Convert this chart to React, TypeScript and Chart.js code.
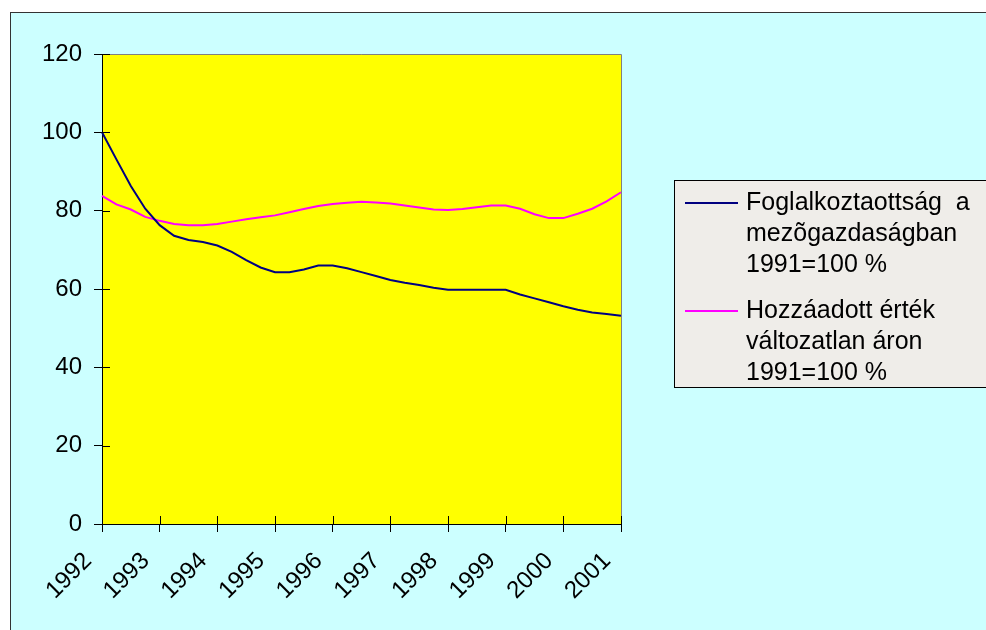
import React, { useEffect, useRef } from 'react';
import { Chart, registerables } from 'chart.js';

Chart.register(...registerables);

// ---- data ----
const years = ['1992', '1993', '1994', '1995', '1996', '1997', '1998', '1999', '2000', '2001'];
const quarterSuffixes = ['', ' II', ' III', ' IV'];
const periods = years.flatMap((y, i) => (i < years.length - 1 ? quarterSuffixes.map((q) => y + q) : [y]));

const employment = [
  100.0, 93.1, 86.3, 80.5, 76.3, 73.6, 72.5, 72.0, 71.1, 69.5, 67.4, 65.5, 64.3, 64.3, 65.0, 66.0, 66.0, 65.3,
  64.3, 63.3, 62.3, 61.6, 61.0, 60.3, 59.8, 59.8, 59.8, 59.8, 59.8, 58.6, 57.6, 56.6, 55.6, 54.7, 54.0, 53.6, 53.2,
];
const valueAdded = [
  83.8, 81.6, 80.3, 78.4, 77.4, 76.6, 76.3, 76.3, 76.6, 77.2, 77.8, 78.3, 78.8, 79.6, 80.4, 81.2, 81.7, 82.0,
  82.3, 82.1, 81.8, 81.3, 80.8, 80.3, 80.2, 80.4, 80.9, 81.3, 81.3, 80.5, 79.1, 78.1, 78.1, 79.2, 80.5, 82.4, 84.7,
];

const legendLines = [
  ['Foglalkoztaottság  a', 'mezõgazdaságban', '1991=100 %'],
  ['Hozzáadott érték', 'változatlan áron', '1991=100 %'],
];
const seriesColors = ['#000080', '#FF00FF'];

const yMin = 0;
const yMax = 120;
const yStep = 20;

const FONT = "'Liberation Sans', Arial, sans-serif";

const decorPlugin = {
  id: 'decor',
  beforeDraw(chart: any) {
    const { ctx, chartArea: a } = chart;
    ctx.save();
    ctx.fillStyle = '#FFFF00';
    ctx.fillRect(a.left, a.top, a.right - a.left, a.bottom - a.top);
    ctx.restore();
  },
  afterDatasetsDraw(chart: any) {
    const { ctx, chartArea: a } = chart;
    ctx.save();
    ctx.strokeStyle = '#808080';
    ctx.lineWidth = 1;
    ctx.beginPath();
    ctx.moveTo(a.left, a.top + 0.5);
    ctx.lineTo(a.right + 0.5, a.top + 0.5);
    ctx.lineTo(a.right + 0.5, a.bottom);
    ctx.stroke();
    ctx.strokeStyle = '#000';
    ctx.beginPath();
    const ys = chart.scales.y;
    ys.ticks.forEach((t: any) => {
      const py = Math.round(ys.getPixelForValue(t.value)) + 0.5;
      ctx.moveTo(a.left, py);
      ctx.lineTo(a.left + 8, py);
    });
    const xs = chart.scales.x;
    periods.forEach((_, i) => {
      if (i % 4 !== 0) return;
      const px = Math.round(xs.getPixelForValue(i)) + 0.5;
      ctx.moveTo(px, a.bottom);
      ctx.lineTo(px, a.bottom - 8);
    });
    ctx.stroke();
    ctx.restore();
  },
  afterDraw(chart: any) {
    const { ctx } = chart;
    const boxLeft = 663;
    const boxTop = 167;
    const boxH = 207;
    ctx.save();
    ctx.fillStyle = '#EFEDE9';
    ctx.fillRect(boxLeft, boxTop, 400, boxH);
    ctx.strokeStyle = '#000';
    ctx.lineWidth = 1;
    ctx.strokeRect(boxLeft + 0.5, boxTop + 0.5, 400, boxH);
    ctx.font = `25px ${FONT}`;
    ctx.fillStyle = '#000';
    ctx.textAlign = 'left';
    ctx.textBaseline = 'alphabetic';
    const lineH = 31;
    const itemGap = 46;
    let baseline = boxTop + 30;
    chart.data.datasets.forEach((ds: any, di: number) => {
      const lines = legendLines[di];
      ctx.strokeStyle = ds.borderColor;
      ctx.lineWidth = 2;
      ctx.beginPath();
      ctx.moveTo(boxLeft + 11, baseline - 7);
      ctx.lineTo(boxLeft + 64, baseline - 7);
      ctx.stroke();
      lines.forEach((ln, li) => {
        ctx.fillText(ln, boxLeft + 72, baseline + li * lineH);
      });
      baseline += (lines.length - 1) * lineH + itemGap;
    });
    ctx.restore();
  },
};

export default function App() {
  const ref = useRef<HTMLCanvasElement | null>(null);

  useEffect(() => {
    if (!ref.current) return;
    const chart = new Chart(ref.current, {
      type: 'line',
      data: {
        labels: periods,
        datasets: [
          {
            label: legendLines[0].join(' '),
            data: employment,
            borderColor: seriesColors[0],
            backgroundColor: seriesColors[0],
            borderWidth: 2,
            pointRadius: 0,
            tension: 0,
            fill: false,
          },
          {
            label: legendLines[1].join(' '),
            data: valueAdded,
            borderColor: seriesColors[1],
            backgroundColor: seriesColors[1],
            borderWidth: 2,
            pointRadius: 0,
            tension: 0,
            fill: false,
          },
        ],
      },
      options: {
        responsive: false,
        animation: false,
        layout: { padding: { top: 41, right: 365, left: 0, bottom: 0 } },
        plugins: { legend: { display: false }, tooltip: { enabled: false } },
        scales: {
          x: {
            type: 'category',
            offset: false,
            afterFit: (s: any) => {
              s.height = 106;
            },
            grid: {
              drawOnChartArea: false,
              drawTicks: true,
              tickLength: 8,
              color: (c: any) => (c.index % 4 === 0 ? '#000' : 'rgba(0,0,0,0)'),
            },
            border: { display: true, color: '#000', width: 1 },
            ticks: {
              autoSkip: false,
              maxRotation: 45,
              minRotation: 45,
              padding: 15,
              labelOffset: -14,
              color: '#000',
              font: { family: FONT, size: 24 },
              callback: (_v: any, i: number) => (i % 4 === 0 ? periods[i] : ''),
            },
          },
          y: {
            min: yMin,
            max: yMax,
            afterFit: (s: any) => {
              s.width = 91;
            },
            grid: { drawOnChartArea: false, drawTicks: true, tickLength: 8, color: '#000' },
            border: { display: true, color: '#000', width: 1 },
            ticks: {
              stepSize: yStep,
              padding: 12,
              color: '#000',
              font: { family: FONT, size: 24 },
            },
          },
        },
      },
      plugins: [decorPlugin],
    });
    return () => chart.destroy();
  }, []);

  return (
    <div
      style={{
        position: 'absolute',
        left: 10,
        top: 12,
        width: 975,
        height: 617,
        overflow: 'hidden',
        background: '#CCFFFF',
        borderLeft: '1px solid #333',
        borderTop: '1px solid #333',
      }}
    >
      <canvas ref={ref} width={975} height={617} style={{ display: 'block', width: 975, height: 617 }} />
    </div>
  );
}
